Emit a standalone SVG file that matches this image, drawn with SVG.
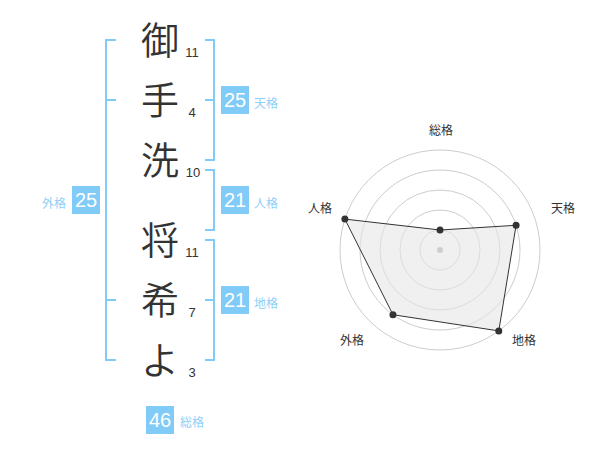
<svg xmlns="http://www.w3.org/2000/svg" width="600" height="470" viewBox="0 0 600 470">
<style>
.ch{font-family:"Noto Sans CJK JP","Noto Sans CJK SC",sans-serif;font-size:38px;font-weight:350;fill:#333;text-anchor:middle}
.num{font-family:"Liberation Sans",Arial,sans-serif;font-size:13px;fill:#333;text-anchor:middle}
.br{fill:none;stroke:#80cbf7;stroke-width:2}
.box{fill:#80cbf7}
.bv{font-family:"Liberation Sans",Arial,sans-serif;font-size:20px;fill:#fff;text-anchor:middle}
.bl{font-family:"Noto Sans CJK JP","Noto Sans CJK SC",sans-serif;font-size:12px;fill:#8dd0f8}
.ring{fill:none;stroke:#cccccc;stroke-width:1}
.rl{font-family:"Noto Sans CJK JP","Noto Sans CJK SC",sans-serif;font-size:12px;fill:#333;text-anchor:middle}
.pt{fill:#333}
</style>
<rect width="600" height="470" fill="#fff"/>
<g id="chars">
<g id="c1"><text class="ch" x="160" y="54">御</text><text class="num" x="192" y="57">11</text></g>
<g id="c2"><text class="ch" x="160" y="114">手</text><text class="num" x="192" y="117">4</text></g>
<g id="c3"><text class="ch" x="160" y="174">洗</text><text class="num" x="193" y="177">10</text></g>
<g id="c4"><text class="ch" x="160" y="254">将</text><text class="num" x="192" y="257">11</text></g>
<g id="c5"><text class="ch" x="160" y="314">希</text><text class="num" x="192" y="317">7</text></g>
<g id="c6"><text class="ch" x="160" y="374">よ</text><text class="num" x="192" y="377">3</text></g>
</g>
<g id="connectors">
<path class="br" d="M116,40H106V360H116M106,100H116M106,300H116"/>
<path class="br" d="M205,40H214V160H205M214,100H205"/>
<path class="br" d="M205,170H214V230H205"/>
<path class="br" d="M205,240H214V360H205M214,300H205"/>
</g>
<g id="gaikaku"><rect class="box" x="72" y="186" width="28" height="28"/><text class="bv" x="86" y="207">25</text><text class="bl" x="66" y="208" text-anchor="end">外格</text></g>
<g id="tenkaku"><rect class="box" x="221" y="86" width="28" height="28"/><text class="bv" x="235" y="107">25</text><text class="bl" x="254" y="108">天格</text></g>
<g id="jinkaku"><rect class="box" x="221" y="186" width="28" height="28"/><text class="bv" x="235" y="207">21</text><text class="bl" x="254" y="208">人格</text></g>
<g id="chikaku"><rect class="box" x="221" y="286" width="28" height="28"/><text class="bv" x="235" y="307">21</text><text class="bl" x="254" y="308">地格</text></g>
<g id="soukaku"><rect class="box" x="146" y="406" width="28" height="28"/><text class="bv" x="160" y="427">46</text><text class="bl" x="180" y="427">総格</text></g>
<g id="radar">
<circle class="ring" cx="440" cy="250" r="20"/>
<circle class="ring" cx="440" cy="250" r="40"/>
<circle class="ring" cx="440" cy="250" r="60"/>
<circle class="ring" cx="440" cy="250" r="80"/>
<circle class="ring" cx="440" cy="250" r="100"/>
<polygon points="440,230 516.08,225.28 498.78,330.9 392.98,314.72 344.89,219.1" fill="#e6e6e6" fill-opacity="0.6" stroke="#333" stroke-width="1"/>
<circle cx="440" cy="250" r="3" fill="#cccccc"/>
<circle class="pt" cx="440" cy="230" r="3.5"/>
<circle class="pt" cx="516.08" cy="225.28" r="3.5"/>
<circle class="pt" cx="498.78" cy="330.9" r="3.5"/>
<circle class="pt" cx="392.98" cy="314.72" r="3.5"/>
<circle class="pt" cx="344.89" cy="219.1" r="3.5"/>
<text class="rl" x="441" y="135">総格</text>
<text class="rl" x="563" y="213">天格</text>
<text class="rl" x="320" y="213">人格</text>
<text class="rl" x="352" y="345">外格</text>
<text class="rl" x="524" y="345">地格</text>
</g>
</svg>
